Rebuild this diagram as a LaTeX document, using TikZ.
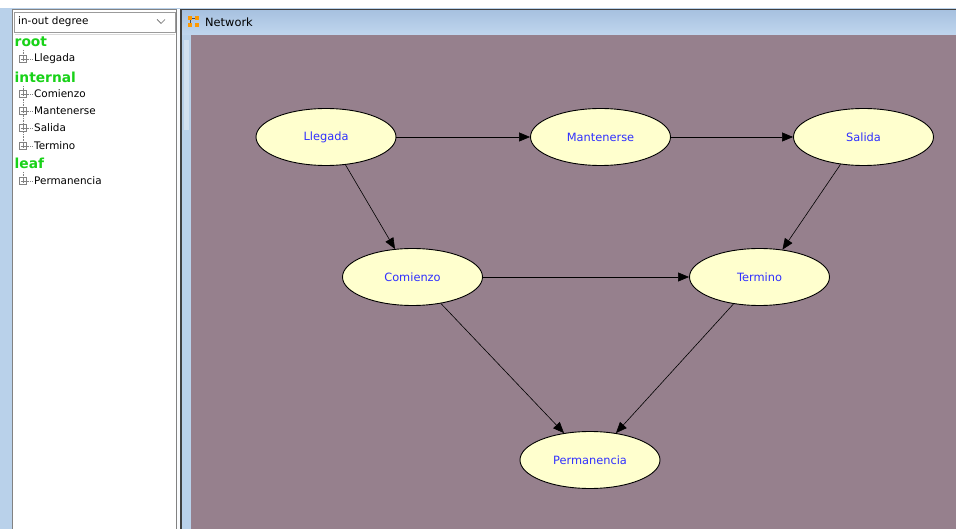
\documentclass[tikz,border=0pt]{standalone}
\usepackage{fontspec}
\setmainfont{DejaVu Sans}
\usetikzlibrary{shapes.geometric,arrows.meta}
\definecolor{canvas}{RGB}{150,128,141}
\definecolor{nodefill}{RGB}{255,255,206}
\definecolor{labelblue}{RGB}{48,48,255}
\definecolor{frameblue}{RGB}{185,209,234}
\definecolor{bartop}{RGB}{168,194,224}
\definecolor{barbottom}{RGB}{192,214,238}
\definecolor{groupgreen}{RGB}{24,210,24}
\definecolor{panelgray}{RGB}{130,130,130}
\tikzset{
  netnode/.style={ellipse, draw=black, line width=0.9pt, fill=nodefill,
    minimum width=140pt, minimum height=57pt, inner sep=0pt,
    text=labelblue, font=\fontsize{11.4}{13}\selectfont},
  edge/.style={line width=0.6pt, -{Triangle[length=11pt,width=9pt]}},
  treetext/.style={anchor=west, inner sep=0pt, font=\fontsize{10.4}{12}\selectfont},
  grouptext/.style={anchor=west, inner sep=0pt, text=groupgreen,
    font=\fontsize{13.8}{15}\selectfont\bfseries},
  plusbox/.style={draw=panelgray, fill=white, line width=0.5pt,
    minimum size=7pt, inner sep=0pt},
  treedots/.style={draw=panelgray, line width=0.5pt, dash pattern=on 0.8pt off 0.8pt}
}
\newcommand{\treeitem}[3]{%
  \node[plusbox] (#1box) at (23,#2) {};
  \draw[panelgray, line width=0.6pt] (20.5,#2) -- (25.5,#2) (23,#2-2.5) -- (23,#2+2.5);
  \draw[treedots] (#1box.east) -- (33,#2);
  \node[treetext] (#1) at (34,#2) {#3};
}
\begin{document}
\begin{tikzpicture}[x=1pt, y=-1pt]
\useasboundingbox (0,0) rectangle (956,529);
% window frame
\fill[white] (0,0) rectangle (956,529);
\fill[frameblue] (0,8) rectangle (956,529);
% tree panel
\fill[white] (13,9) rectangle (176,529);
\draw[panelgray, line width=1pt] (12.5,529) -- (12.5,9.5) -- (176,9.5) -- (176,529);
\fill[white!92!frameblue] (176.5,9) rectangle (180,529);
% selector box
\draw[panelgray!80, line width=0.8pt, fill=white] (14.5,12.5) rectangle (175,32);
\node[treetext] (selector) at (18,22) {in-out degree};
\draw[black!60, line width=0.7pt] (157,19.5) -- (161,23.5) -- (165,19.5);
\draw[black!15, line width=0.6pt] (14.5,34) -- (175,34);
% tree contents
\node[grouptext] (root) at (14.5,42) {root};
\draw[treedots] (23,50) -- (23,55.5);
\treeitem{tLlegada}{59}{Llegada}
\node[grouptext] (internal) at (14.5,77) {internal};
\draw[treedots] (23,86) -- (23,142.5);
\treeitem{tComienzo}{94}{Comienzo}
\treeitem{tMantenerse}{111}{Mantenerse}
\treeitem{tSalida}{128}{Salida}
\treeitem{tTermino}{146}{Termino}
\node[grouptext] (leaf) at (14.5,163) {leaf};
\draw[treedots] (23,172) -- (23,177.5);
\treeitem{tPermanencia}{181}{Permanencia}
% network window
\draw[black!75, line width=2pt] (181,529) -- (181,10) -- (956,10);
\shade[top color=bartop, bottom color=barbottom] (182,11) rectangle (956,35);
\draw[black!20, line width=0.5pt] (182,35) -- (956,35);
\fill[frameblue] (182,35.5) rectangle (190.5,529);
\fill[white!35!frameblue] (184,40) rectangle (189,130);
\fill[canvas] (190.5,35.5) rectangle (956,529);
% title bar icon and caption
\draw[black!70, line width=0.7pt] (190,18) -- (197,18) (190,18) -- (190,25);
\foreach \ix/\iy in {190/18, 197/18, 190/25, 197/25}
  \fill[orange!80!yellow] (\ix-1.6,\iy-1.6) rectangle (\ix+1.6,\iy+1.6);
\node[treetext, font=\fontsize{11.4}{13}\selectfont] (title) at (205,22.5) {Network};
% network nodes
\node[netnode] (Llegada) at (326,137) {Llegada};
\node[netnode] (Mantenerse) at (600.5,137) {Mantenerse};
\node[netnode] (Salida) at (863.5,137) {Salida};
\node[netnode] (Comienzo) at (412.5,277) {Comienzo};
\node[netnode] (Termino) at (759.5,277) {Termino};
\node[netnode] (Permanencia) at (590,460) {Permanencia};
% network edges
\draw[edge] (Llegada.east) -- (Mantenerse.west);
\draw[edge] (Mantenerse.east) -- (Salida.west);
\draw[edge] (Llegada.-55) -- (Comienzo.122);
\draw[edge] (Salida.-130) -- (Termino.50);
\draw[edge] (Comienzo.east) -- (Termino.west);
\draw[edge] (Comienzo.-43) -- (Permanencia.134);
\draw[edge] (Termino.-134) -- (Permanencia.46);
\end{tikzpicture}
\end{document}
